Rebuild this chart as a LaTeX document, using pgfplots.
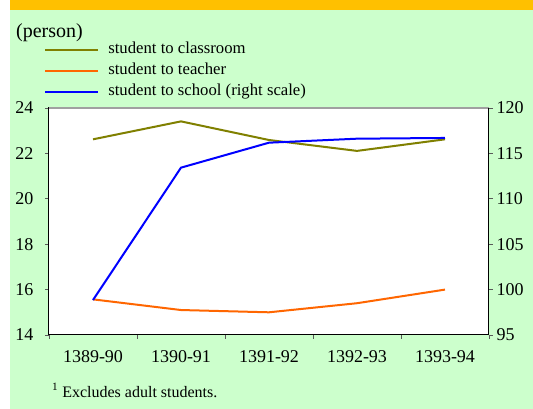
\documentclass[border=0pt]{standalone}
\usepackage{pgfplots}
\pgfplotsset{compat=1.18}
\usepackage{fontspec}
\setmainfont{Liberation Serif}
\definecolor{bggreen}{HTML}{CCFFCC}
\definecolor{topbar}{HTML}{FFC000}
\definecolor{olivec}{HTML}{808000}
\definecolor{orangec}{HTML}{FF6600}
\definecolor{bluec}{HTML}{0000FF}
\definecolor{topline}{HTML}{A0A0A0}
\pgfplotstableread{
x classroom teacher school
1 22.62 15.57 98.85
2 23.41 15.10 113.43
3 22.59 15.00 116.18
4 22.11 15.40 116.62
5 22.62 16.00 116.70
}\datatable
\begin{document}
\begin{tikzpicture}
\path[use as bounding box] (0,0) rectangle (533bp,409bp);
\fill[white] (0,0) rectangle (533bp,409bp);
\fill[bggreen] (10bp,0) rectangle (533bp,399bp);
\fill[topbar] (10bp,399bp) rectangle (533bp,409bp);
\node[anchor=base west, inner sep=0pt, font=\fontsize{20bp}{24bp}\selectfont] at (16bp,371bp) {(person)};
\node[anchor=base west, inner sep=0pt, font=\fontsize{16bp}{19bp}\selectfont] at (52bp,12bp) {\textsuperscript{1} Excludes adult students.};
\begin{axis}[
  scale only axis, width=440bp, height=227bp,
  at={(49bp,74bp)}, anchor=south west,
  xmin=0.5, xmax=5.5, ymin=14, ymax=24,
  xtick={1,2,3,4,5},
  xticklabels={1389-90,1390-91,1391-92,1392-93,1393-94},
  major x tick style={draw=none},
  minor xtick={0.5,1.5,2.5,3.5,4.5,5.5},
  ytick={14,16,18,20,22,24},
  xtick pos=lower, ytick pos=left,
  tick align=outside,
  major tick length=4bp, minor tick length=4bp,
  axis background/.style={fill=white},
  axis line style={black, line width=1bp},
  tick style={gray!70!black, line width=0.8bp},
  ticklabel style={font=\fontsize{18bp}{18bp}\selectfont},
  /pgf/number format/assume math mode=true,
  xticklabel style={yshift=-8bp},
  yticklabel style={xshift=-8bp},
]
\addplot[olivec, line width=2bp] table[x=x, y=classroom] {\datatable};
\addplot[orangec, line width=2bp] table[x=x, y=teacher] {\datatable};
\draw[topline, line width=1.5bp] (rel axis cs:0,1) -- (rel axis cs:1,1);
\end{axis}
\begin{axis}[
  scale only axis, width=440bp, height=227bp,
  at={(49bp,74bp)}, anchor=south west,
  xmin=0.5, xmax=5.5, ymin=95, ymax=120,
  axis x line=none, axis y line*=right,
  ytick={95,100,105,110,115,120},
  tick align=outside,
  major tick length=4bp,
  axis line style={black, line width=1bp},
  tick style={gray!70!black, line width=0.8bp},
  ticklabel style={font=\fontsize{18bp}{18bp}\selectfont},
  /pgf/number format/assume math mode=true,
  legend image code/.code={\draw[#1] (0bp,0bp) -- (53bp,0bp); \path (62bp,0bp);},
  legend cell align=left,
  legend style={at={(axis description cs:-0.011,1.302)}, anchor=north west,
    draw=none, fill=none, inner sep=0pt,
    font=\fontsize{16.7bp}{20bp}\selectfont,
    nodes={inner sep=0pt, text height=14bp, text depth=7bp}},
]
\addlegendimage{olivec, line width=2bp}
\addlegendentry{student to classroom}
\addlegendimage{orangec, line width=2bp}
\addlegendentry{student to teacher}
\addplot[bluec, line width=2bp] table[x=x, y=school] {\datatable};
\addlegendentry{student to school (right scale)}
\end{axis}
\end{tikzpicture}
\end{document}
